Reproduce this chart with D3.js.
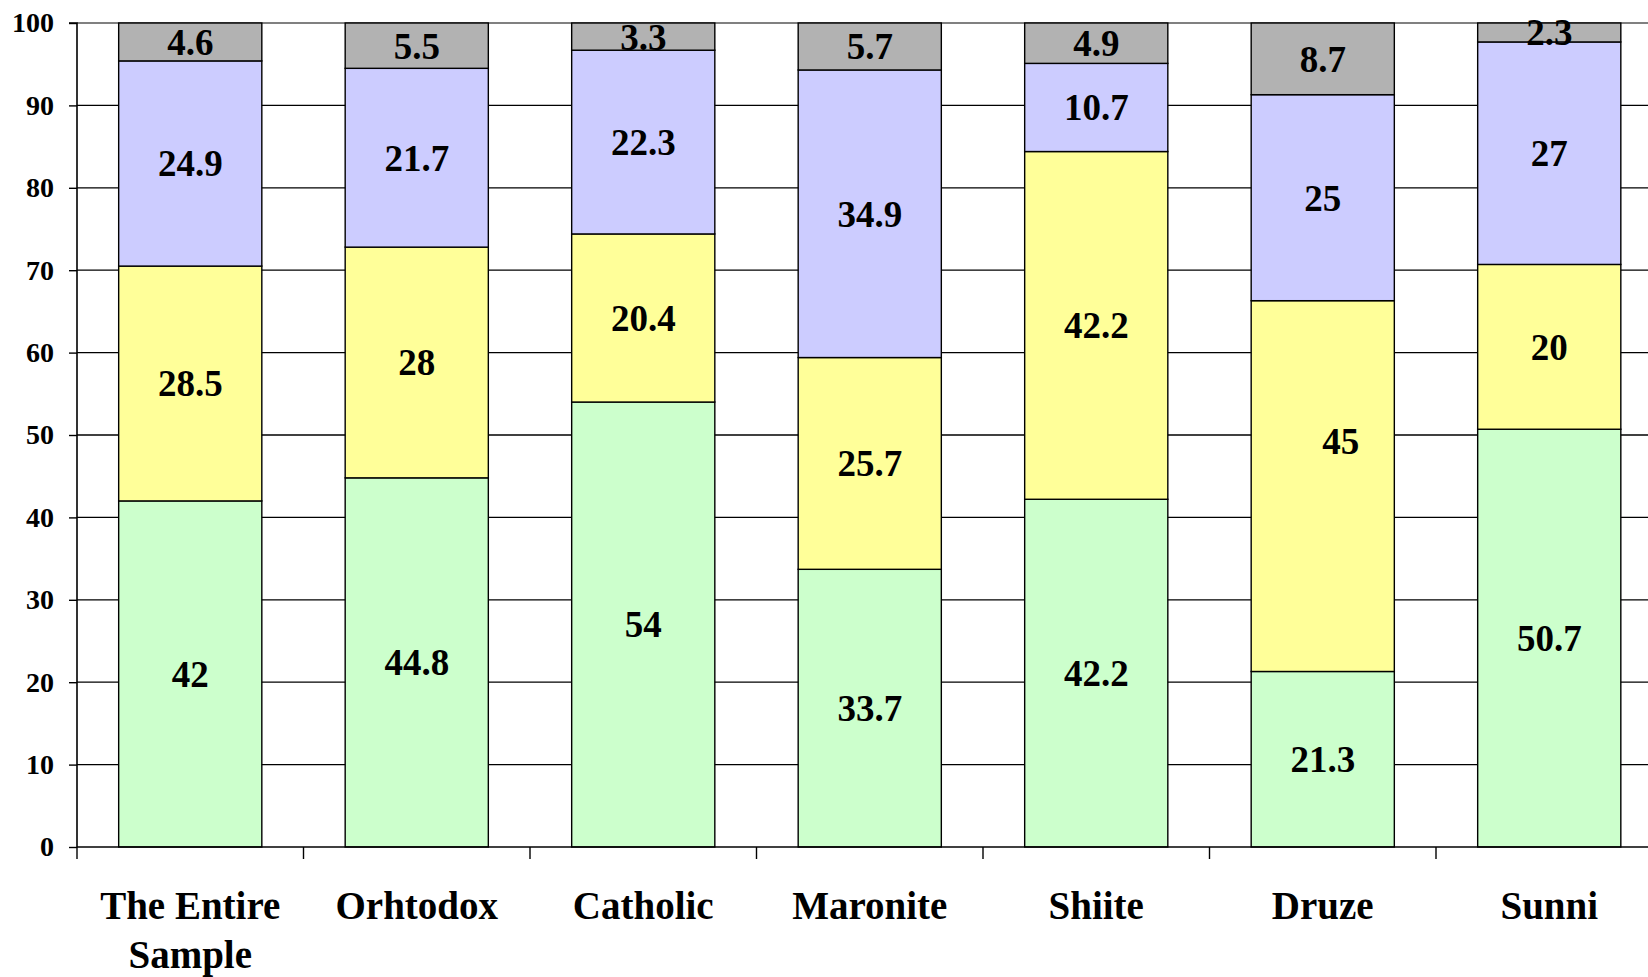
<!DOCTYPE html>
<html><head><meta charset="utf-8">
<script src="https://cdn.jsdelivr.net/npm/d3@7"></script>
<style>html,body{margin:0;padding:0;background:#fff;overflow:hidden}</style>
</head><body><svg id="c" width="1648" height="977"></svg>
<script>
const categories = [["The Entire","Sample"],["Orhtodox"],["Catholic"],["Maronite"],["Shiite"],["Druze"],["Sunni"]];
const seriesGreen  = [42, 44.8, 54, 33.7, 42.2, 21.3, 50.7];
const seriesYellow = [28.5, 28, 20.4, 25.7, 42.2, 45, 20];
const seriesBlue   = [24.9, 21.7, 22.3, 34.9, 10.7, 25, 27];
const seriesGray   = [4.6, 5.5, 3.3, 5.7, 4.9, 8.7, 2.3];
const yTicks = [0,10,20,30,40,50,60,70,80,90,100];
const colors = ["#CCFFCC","#FFFF99","#CCCCFF","#B2B2B2"];

const series = [seriesGreen, seriesYellow, seriesBlue, seriesGray];
const keys = ["g","y","b","k"];
const rows = categories.map((c,i)=>{const o={cat:i}; keys.forEach((k,j)=>o[k]=series[j][i]); return o;});
const stack = d3.stack().keys(keys)(rows);

const svg = d3.select("#c");
const x0 = 77, catW = 226.5;
const x = d3.scaleBand().domain(d3.range(categories.length)).range([x0, x0 + catW*categories.length]).paddingInner(0.368).paddingOuter(0.184);
const y = d3.scaleLinear().domain([0,100]).range([847,23]);

// gridlines
svg.append("g").selectAll("line").data(yTicks.filter(t=>t>0)).join("line")
  .attr("x1",x0).attr("x2",1648).attr("y1",d=>y(d)).attr("y2",d=>y(d))
  .attr("stroke",d=>d===100?"#808080":"#000").attr("stroke-width",d=>d===100?2:1.3);

// bars
const fontF = "'Liberation Serif','Times New Roman',serif";
stack.forEach((s,si)=>{
  svg.append("g").selectAll("rect").data(s).join("rect")
    .attr("x",(d,i)=>x(i)).attr("width",x.bandwidth())
    .attr("y",d=>y(d[1])).attr("height",d=>y(d[0])-y(d[1]))
    .attr("fill",colors[si]).attr("stroke","#000").attr("stroke-width",1.4);
});
stack.forEach((s,si)=>{
  const odd = (si,i)=>si===1&&i===5;
  svg.append("g").selectAll("text").data(s).join("text")
    .attr("x",(d,i)=>x(i)+x.bandwidth()/2 + (odd(si,i)?18:0))
    .attr("y",(d,i)=>(y(d[0])+y(d[1]))/2 + (odd(si,i)?-45:0))
    .attr("dy","0.35em").attr("text-anchor","middle")
    .attr("font-family",fontF).attr("font-weight","bold").attr("font-size",37)
    .text(d=>series[si][d.data.cat]);
});

// y axis
const yAxis = d3.axisLeft(y).tickValues(yTicks).tickSize(8).tickPadding(15).tickFormat(d3.format("d"));
const ga = svg.append("g").attr("transform",`translate(${x0},0)`).call(yAxis);
ga.select(".domain").attr("stroke","#000").attr("stroke-width",1.6).attr("d",`M-8,${y(100)}H0V${y(0)}`);
ga.selectAll(".tick line").attr("stroke","#000").attr("stroke-width",1.4);
ga.selectAll(".tick text").attr("font-family",fontF).attr("font-weight","bold").attr("font-size",28).attr("fill","#000");

// x axis
svg.append("line").attr("x1",x0).attr("x2",1648).attr("y1",y(0)).attr("y2",y(0)).attr("stroke","#000").attr("stroke-width",1.6);
svg.append("g").selectAll("line").data(d3.range(categories.length+1)).join("line")
  .attr("x1",i=>x0+i*catW).attr("x2",i=>x0+i*catW).attr("y1",y(0)).attr("y2",y(0)+12)
  .attr("stroke","#000").attr("stroke-width",1.4);
const lab = svg.append("g").selectAll("text").data(categories).join("text")
  .attr("x",(d,i)=>x(i)+x.bandwidth()/2).attr("y",919).attr("text-anchor","middle")
  .attr("font-family",fontF).attr("font-weight","bold").attr("font-size",39);
lab.each(function(d){
  const t=d3.select(this);
  d.forEach((line,li)=>t.append("tspan").attr("x",t.attr("x")).attr("dy",li===0?0:49).text(line));
});
</script></body></html>
